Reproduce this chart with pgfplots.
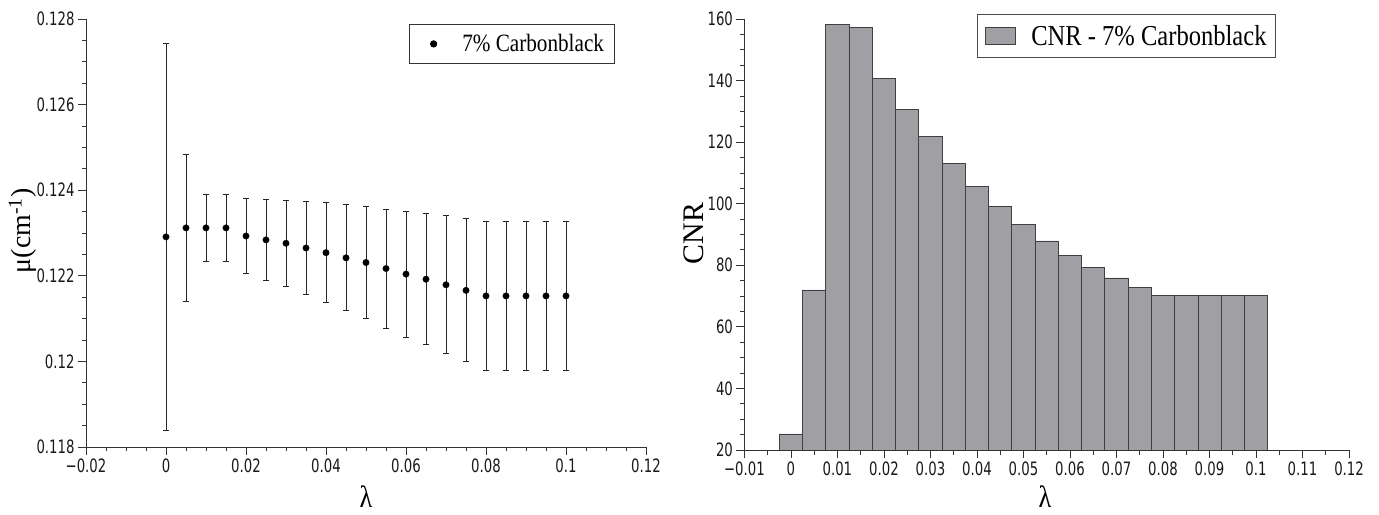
\documentclass[border=0pt]{standalone}
\usepackage{pgfplots}
\pgfplotsset{compat=1.18}
\usepackage{fontspec}
\setmainfont{Liberation Serif}[FakeStretch=0.85]
\newfontfamily\plainserif{Liberation Serif}
\newfontfamily\tickfont{DejaVu Sans Condensed}[FakeStretch=0.8]
\definecolor{barfill}{RGB}{160,160,164}
\pgfplotsset{
  commonstyle/.style={
    scale only axis,
    axis x line*=bottom, axis y line*=left,
    axis line style={black!80, line width=0.8bp},
    tick align=outside,
    major tick length=8bp, minor tick length=4.5bp,
    tick style={black!80, line width=0.8bp},
    ticklabel style={font=\tickfont\fontsize{18.5}{20}\selectfont, text=black!90},
    xlabel style={font=\fontsize{31}{33}\selectfont},
    ylabel style={font=\plainserif\fontsize{30}{32}\selectfont},
  },
  barlegend/.style={legend image code/.code={\draw[##1] (0bp,-8.5bp) rectangle (30bp,8.5bp); \path (0bp,0bp) (44bp,0bp);}},
  dotlegend/.style={legend image code/.code={\draw[mark repeat=2,mark phase=2,##1] plot coordinates {(0bp,0bp) (15.7bp,0bp) (31bp,0bp)}; \path (0bp,0bp) (42bp,0bp);}},
}
\begin{document}
\begin{tikzpicture}
\useasboundingbox (0,0) rectangle (1379bp,515bp);
\begin{axis}[
  commonstyle,
  at={(86bp,68bp)}, anchor=south west,
  width=560bp, height=428bp,
  xmin=-0.02, xmax=0.12, ymin=0.118, ymax=0.128,
  xtick={-0.02,0,0.02,0.04,0.06,0.08,0.1,0.12},
  xticklabels={−0.02,0,0.02,0.04,0.06,0.08,0.1,0.12},
  ytick={0.118,0.12,0.122,0.124,0.126,0.128},
  yticklabels={0.118,0.12,0.122,0.124,0.126,0.128},
  minor tick num=3,
  xlabel={λ}, ylabel={μ(cm\textsuperscript{-1})},
  xlabel style={at={(axis description cs:0.5,-0.117)}, anchor=center},
  ylabel style={at={(axis description cs:-0.113,0.505)}, anchor=center, font=\plainserif\fontsize{28}{30}\selectfont},
  legend style={at={(axis description cs:0.577,0.988)}, anchor=north west,
    draw=black!80, line width=0.8bp, font=\fontsize{25}{27}\selectfont,
    inner xsep=8bp, inner ysep=8bp},
]
\addplot[only marks, mark=*, mark size=3.2bp, black, dotlegend,
  error bars/.cd, y dir=both, y explicit,
  error bar style={line width=0.8bp, black!85},
  error mark options={rotate=90, mark size=3bp, line width=0.8bp, black!85}]
  table[x=x, y=y, y error=e] {
x y e
0 0.12291 0.00452
0.005 0.12312 0.00172
0.01 0.12312 0.00078
0.015 0.12312 0.00078
0.02 0.12293 0.00088
0.025 0.12284 0.00094
0.03 0.12276 0.00100
0.035 0.12265 0.00108
0.04 0.12254 0.00117
0.045 0.12242 0.00124
0.05 0.12231 0.00131
0.055 0.12217 0.00139
0.06 0.12204 0.00147
0.065 0.12192 0.00153
0.07 0.12179 0.00161
0.075 0.12166 0.00167
0.08 0.12153 0.00174
0.085 0.12153 0.00174
0.09 0.12153 0.00174
0.095 0.12153 0.00174
0.1 0.12153 0.00174
};
\addlegendentry{7\% Carbonblack}
\end{axis}

\begin{axis}[
  commonstyle,
  at={(744.4bp,65bp)}, anchor=south west,
  width=604.6bp, height=431bp,
  xmin=-0.01, xmax=0.12, ymin=20, ymax=160,
  ybar, bar width=0.005,
  xtick={-0.01,0,0.01,0.02,0.03,0.04,0.05,0.06,0.07,0.08,0.09,0.1,0.11,0.12},
  xticklabels={−0.01,0,0.01,0.02,0.03,0.04,0.05,0.06,0.07,0.08,0.09,0.1,0.11,0.12},
  ytick={20,40,60,80,100,120,140,160},
  yticklabels={20,40,60,80,100,120,140,160},
  minor x tick num=1, minor y tick num=3,
  xlabel={λ}, ylabel={CNR},
  xlabel style={at={(axis description cs:0.497,-0.109)}, anchor=center},
  ylabel style={at={(axis description cs:-0.0834,0.502)}, anchor=center},
  legend style={at={(axis description cs:0.385,1.012)}, anchor=north west,
    draw=black!70, line width=0.8bp, font=\fontsize{29}{31}\selectfont,
    inner xsep=7bp, inner ysep=9bp},
]
\addplot[fill=barfill, draw=black!75, line width=0.7bp, barlegend]
  coordinates {
(0,25.2) (0.005,72) (0.01,158.3) (0.015,157.3) (0.02,140.8) (0.025,130.6)
(0.03,121.8) (0.035,113.1) (0.04,105.7) (0.045,99.2) (0.05,93.3) (0.055,87.9)
(0.06,83.3) (0.065,79.4) (0.07,75.9) (0.075,72.8) (0.08,70.1) (0.085,70.1)
(0.09,70.1) (0.095,70.1) (0.1,70.1)
};
\addlegendentry{CNR - 7\% Carbonblack}
\end{axis}
\end{tikzpicture}
\end{document}
